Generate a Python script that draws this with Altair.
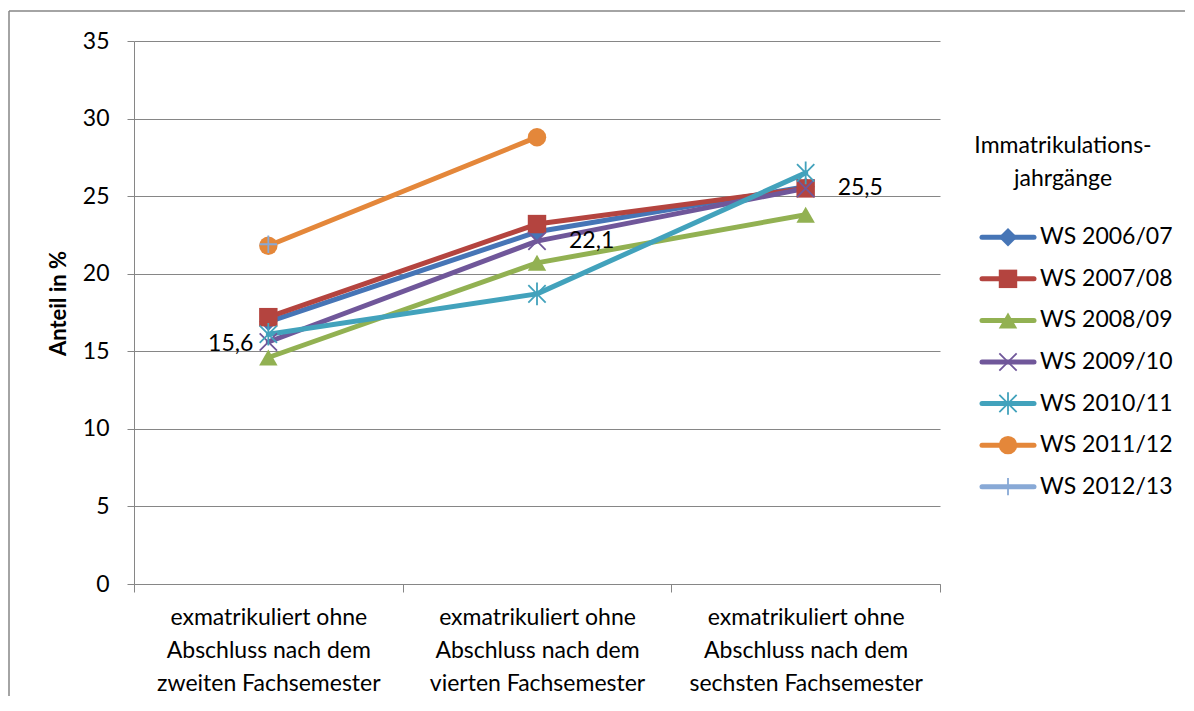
import altair as alt
import pandas as pd

# ---------------- data ----------------
categories = [
    "exmatrikuliert ohne\nAbschluss nach dem\nzweiten Fachsemester",
    "exmatrikuliert ohne\nAbschluss nach dem\nvierten Fachsemester",
    "exmatrikuliert ohne\nAbschluss nach dem\nsechsten Fachsemester",
]
series = ["WS 2006/07", "WS 2007/08", "WS 2008/09", "WS 2009/10",
          "WS 2010/11", "WS 2011/12", "WS 2012/13"]

ws_2006_07 = [16.9, 22.7, 25.6]
ws_2007_08 = [17.2, 23.2, 25.5]
ws_2008_09 = [14.6, 20.7, 23.8]
ws_2009_10 = [15.6, 22.1, 25.5]
ws_2010_11 = [16.1, 18.7, 26.5]
ws_2011_12 = [21.8, 28.8, None]
ws_2012_13 = [21.9, None, None]

labelled_series = "WS 2009/10"
y_ticks = [0, 5, 10, 15, 20, 25, 30, 35]
legend_title = "Immatrikulations-\njahrgänge"

colors = ["#4675B6", "#B4443F", "#92B152", "#70579A", "#42A2BC", "#E4873A", "#88A9D6"]
shapes = [
    "diamond", "square", "triangle-up",
    "M-1,-1L1,1M-1,1L1,-1",
    "M-1,-1L1,1M-1,1L1,-1M0,-1.3L0,1.3",
    "circle",
    "M-1,0L1,0M0,-1L0,1",
]
filled_series = ["WS 2006/07", "WS 2007/08", "WS 2008/09", "WS 2011/12"]
stroked_series = ["WS 2009/10", "WS 2010/11", "WS 2012/13"]

all_values = [ws_2006_07, ws_2007_08, ws_2008_09, ws_2009_10,
              ws_2010_11, ws_2011_12, ws_2012_13]
rows = []
for s, vals in zip(series, all_values):
    for c, v in zip(categories, vals):
        if v is not None:
            rows.append({"series": s, "category": c, "value": v,
                         "label": f"{v:.1f}".replace(".", ",")})
df = pd.DataFrame(rows)
legend_df = pd.DataFrame({"series": series})
title_df = pd.DataFrame({"t": [legend_title]})

FONT = "Lato"
FS = 23
GREY = "#868686"
W, H = 806, 543

color_scale = alt.Scale(domain=series, range=colors)
shape_scale = alt.Scale(domain=series, range=shapes)

x_enc = alt.X(
    "category:N", sort=categories,
    scale=alt.Scale(type="band", domain=categories, paddingInner=0, paddingOuter=0),
    axis=alt.Axis(title=None, tickBand="extent", labelAngle=0, labelLimit=0,
                  labelExpr="split(datum.label, '\\n')",
                  labelFont=FONT, labelFontSize=FS, labelLineHeight=33,
                  labelColor="black", labelPadding=14, labelBaseline="top",
                  tickSize=8, tickColor=GREY, domainColor=GREY, grid=False),
)
y_enc = alt.Y(
    "value:Q", scale=alt.Scale(domain=[0, 35]),
    axis=alt.Axis(values=y_ticks, title="Anteil in %", grid=True, gridColor=GREY,
                  tickSize=7, tickColor=GREY, domainColor=GREY,
                  labelFont=FONT, labelFontSize=FS, labelColor="black", labelPadding=18,
                  titleFont=FONT, titleFontSize=22, titleFontWeight="bold",
                  titleColor="black", titleAngle=270, titleX=-76, titleY=262,
                  titleAlign="center", titleBaseline="middle"),
)
color_enc = alt.Color("series:N", scale=color_scale, legend=None)
shape_enc = alt.Shape("series:N", scale=shape_scale, legend=None)

base = alt.Chart(df)
lines = base.mark_line(strokeWidth=5, strokeCap="round", strokeJoin="round").encode(
    x=x_enc, y=y_enc, color=color_enc, detail="series:N")
pts_filled = base.transform_filter(
    alt.FieldOneOfPredicate(field="series", oneOf=filled_series)
).mark_point(filled=True, size=340, opacity=1).encode(
    x=x_enc, y=y_enc, color=color_enc, shape=shape_enc)
pts_stroked = base.transform_filter(
    alt.FieldOneOfPredicate(field="series", oneOf=stroked_series)
).mark_point(filled=False, size=300, strokeWidth=1.8, opacity=1).encode(
    x=x_enc, y=y_enc, color=color_enc, shape=shape_enc)

lab = base.transform_filter(alt.datum.series == labelled_series)
labels_left = lab.transform_filter(alt.datum.category == categories[0]).mark_text(
    align="right", baseline="middle", dx=-15, dy=2, font=FONT, fontSize=FS, color="black"
).encode(x=x_enc, y=y_enc, text="label:N")
labels_right = lab.transform_filter(alt.datum.category != categories[0]).mark_text(
    align="left", baseline="middle", dx=32, dy=0, font=FONT, fontSize=FS, color="black"
).encode(x=x_enc, y=y_enc, text="label:N")

frame_top = alt.Chart(title_df).mark_rule(color=GREY, strokeWidth=1.5).encode(
    x=alt.value(-125), x2=alt.value(1051), y=alt.value(-30))
frame_left = alt.Chart(title_df).mark_rule(color=GREY, strokeWidth=1.5).encode(
    x=alt.value(-125), y=alt.value(-30), y2=alt.value(655))

main = alt.layer(frame_top, frame_left, lines, pts_filled, pts_stroked,
                 labels_left, labels_right).properties(width=W, height=H)

# ---------------- legend panel ----------------
ly = alt.Y("series:N", sort=series, axis=None,
           scale=alt.Scale(type="point", domain=series, range=[175.5, 466.5]))
lbase = alt.Chart(legend_df)
l_lines = lbase.mark_rule(strokeWidth=5, strokeCap="round").encode(
    x=alt.value(12), x2=alt.value(64), y=ly, color=color_enc)
l_filled = lbase.transform_filter(
    alt.FieldOneOfPredicate(field="series", oneOf=filled_series)
).mark_point(filled=True, size=340, opacity=1).encode(
    x=alt.value(38), y=ly, color=color_enc, shape=shape_enc)
l_stroked = lbase.transform_filter(
    alt.FieldOneOfPredicate(field="series", oneOf=stroked_series)
).mark_point(filled=False, size=300, strokeWidth=1.8, opacity=1).encode(
    x=alt.value(38), y=ly, color=color_enc, shape=shape_enc)
l_text = lbase.mark_text(align="left", baseline="middle", font=FONT, fontSize=FS,
                         color="black").encode(x=alt.value(70), y=ly, text="series:N")
l_title = alt.Chart(title_df).mark_text(align="center", baseline="middle", font=FONT,
                                        fontSize=FS, color="black", lineBreak="\n",
                                        lineHeight=33).encode(
    x=alt.value(93), y=alt.value(104.5), text="t:N")

legend = alt.layer(l_lines, l_filled, l_stroked, l_text, l_title).properties(
    width=200, height=H)

chart = alt.hconcat(main, legend, spacing=30, bounds="flush").resolve_scale(
    color="shared", shape="shared"
).properties(
    padding={"left": 0, "top": 2, "right": 0, "bottom": 0},
    autosize=alt.AutoSizeParams(type="pad"),
).configure(font=FONT, background="white").configure_view(stroke=None)

chart.save("out.html", embed_options={"renderer": "svg", "actions": False})
